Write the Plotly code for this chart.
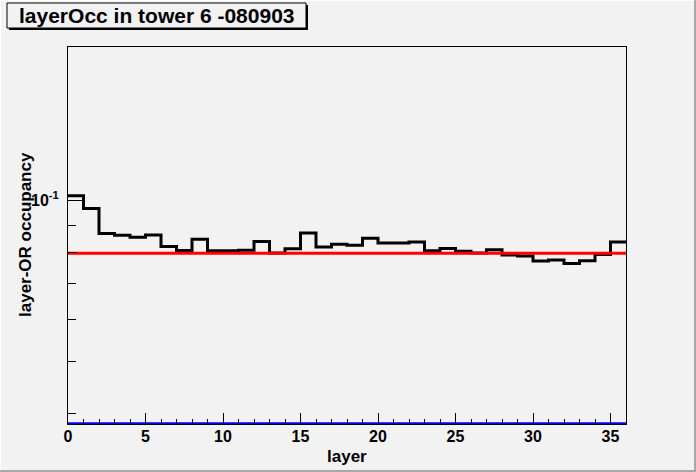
import plotly.graph_objects as go

# ---- data ----
bin_edges = list(range(0, 37))
occupancy = [0.1021, 0.0967, 0.0868, 0.0861, 0.0854, 0.0862, 0.0821, 0.0807,
             0.0847, 0.0806, 0.0806, 0.0808, 0.0839, 0.0798, 0.0813, 0.0870,
             0.0819, 0.0829, 0.0825, 0.0850, 0.0833, 0.0833, 0.0837, 0.0806,
             0.0814, 0.0804, 0.0798, 0.0809, 0.0791, 0.0788, 0.0771, 0.0774,
             0.0763, 0.0772, 0.0793, 0.0837]
mean_level = 0.0797
baseline_level = 0.0383
x_tick_vals = [0, 5, 10, 15, 20, 25, 30, 35]
y_major_vals = [0.1]
y_major_text = ["10<sup>-1</sup>"]
y_minor_vals = [0.04, 0.05, 0.06, 0.07, 0.08, 0.09]
title_text = "layerOcc in tower 6 -080903"
x_title = "layer"
y_title = "layer-OR occupancy"

W, H = 696, 472
L, R, T, B = 68, 70, 47, 48
PW, PH = W - L - R, H - T - B
BG = "#f2f2f2"
FONT = "Liberation Sans, Arial, Helvetica, sans-serif"


def px(x):
    return (x - L) / PW


def py(y):
    return (H - B - y) / PH


fig = go.Figure()

# histogram as step line
fig.add_trace(go.Scatter(
    x=bin_edges, y=occupancy + [occupancy[-1]],
    mode="lines", line=dict(color="black", width=3, shape="hv"),
    showlegend=False, hoverinfo="skip"))

# red mean line
fig.add_trace(go.Scatter(
    x=[bin_edges[0], bin_edges[-1]], y=[mean_level, mean_level],
    mode="lines", line=dict(color="#ff0000", width=3),
    showlegend=False, hoverinfo="skip"))

# blue baseline
fig.add_trace(go.Scatter(
    x=[bin_edges[0], bin_edges[-1]], y=[baseline_level, baseline_level],
    mode="lines", line=dict(color="#0000ff", width=2.5),
    showlegend=False, hoverinfo="skip", cliponaxis=False))

ymax_log = -1 + (200.6 - T) / 535.0
ymin_log = ymax_log - PH / 535.0

fig.update_layout(
    width=W, height=H,
    margin=dict(l=L, r=R, t=T, b=B, pad=0),
    paper_bgcolor=BG, plot_bgcolor=BG,
    font=dict(family=FONT, color="black"),
    xaxis=dict(
        range=[0, 36], tickmode="array", tickvals=x_tick_vals,
        ticks="inside", ticklen=11, tickwidth=1, tickcolor="black",
        showline=True, linecolor="black", linewidth=1, mirror=True,
        showgrid=False, zeroline=False,
        tickfont=dict(size=16, family=FONT, weight="bold"),
        ticklabelstandoff=-2,
        minor=dict(dtick=1, tick0=0, ticks="inside", ticklen=5.5,
                   tickcolor="black", tickwidth=1, showgrid=False),
    ),
    yaxis=dict(
        type="log", range=[ymin_log, ymax_log],
        tickmode="array", tickvals=y_major_vals, ticktext=y_major_text,
        ticks="inside", ticklen=16, tickwidth=1, tickcolor="black",
        showline=True, linecolor="black", linewidth=1, mirror=True,
        showgrid=False, zeroline=False,
        tickfont=dict(size=16, family=FONT, weight="bold"),
        ticklabelstandoff=5,
        minor=dict(tickmode="array", tickvals=y_minor_vals, ticks="inside",
                   ticklen=8, tickcolor="black", tickwidth=1, showgrid=False),
    ),
)

shapes = []
# canvas bevel
shapes.append(dict(type="rect", xref="paper", yref="paper", layer="above",
                   x0=px(0), x1=px(W), y0=py(0), y1=py(1),
                   fillcolor="white", line=dict(width=0)))
shapes.append(dict(type="rect", xref="paper", yref="paper", layer="above",
                   x0=px(0), x1=px(1), y0=py(0), y1=py(H),
                   fillcolor="white", line=dict(width=0)))
shapes.append(dict(type="rect", xref="paper", yref="paper", layer="above",
                   x0=px(W - 2), x1=px(W), y0=py(0), y1=py(H),
                   fillcolor="#a8a8a8", line=dict(width=0)))
shapes.append(dict(type="rect", xref="paper", yref="paper", layer="above",
                   x0=px(0), x1=px(W), y0=py(H - 2), y1=py(H),
                   fillcolor="#a8a8a8", line=dict(width=0)))
# title box shadow and box
shapes.append(dict(type="rect", xref="paper", yref="paper", layer="above",
                   x0=px(9), x1=px(308), y0=py(5), y1=py(30),
                   fillcolor="black", line=dict(width=0)))
shapes.append(dict(type="rect", xref="paper", yref="paper", layer="above",
                   x0=px(7), x1=px(306), y0=py(3), y1=py(28),
                   fillcolor=BG, line=dict(color="black", width=1)))
fig.update_layout(shapes=shapes)

fig.add_annotation(text=title_text, xref="paper", yref="paper",
                   x=px(156.5), y=py(16), xanchor="center", yanchor="middle",
                   showarrow=False,
                   font=dict(size=21, family=FONT, color="black", weight="bold"))
fig.add_annotation(text=x_title, xref="paper", yref="paper",
                   x=px(347), y=py(457), xanchor="center", yanchor="middle",
                   showarrow=False,
                   font=dict(size=17, family=FONT, color="black", weight="bold"))
fig.add_annotation(text=y_title, xref="paper", yref="paper",
                   x=px(25), y=py(235), xanchor="center", yanchor="middle",
                   textangle=-90, showarrow=False,
                   font=dict(size=17, family=FONT, color="black", weight="bold"))

fig.write_html(
    "out.html",
    config={"displayModeBar": False},
    post_script="document.body.style.margin='0';"
                "document.body.style.padding='0';"
                "document.body.style.background='#f2f2f2';"
                "document.body.style.overflow='hidden';")
